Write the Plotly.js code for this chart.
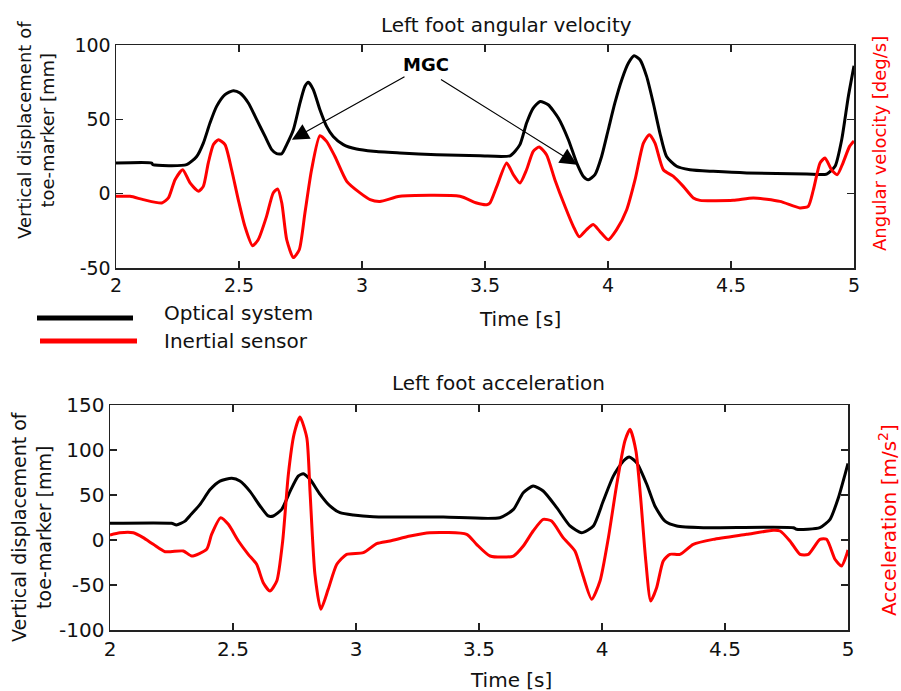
<!DOCTYPE html>
<html>
<head>
<meta charset="utf-8">
<script src="https://cdn.plot.ly/plotly-3.0.1.min.js"></script>
<style>html,body{margin:0;padding:0;background:#fff;}#chart{width:901px;height:691px;}</style>
</head>
<body>
<div id="chart"></div>
<script>
// ---- Top panel: Left foot angular velocity ----
var topOptT = [2.0,2.145,2.15,2.287,2.328,2.355,2.382,2.409,2.443,2.477,2.504,2.538,2.572,2.606,2.633,2.653,2.674,2.694,2.721,2.748,2.768,2.782,2.802,2.829,2.856,2.883,2.924,2.978,3.046,3.154,3.304,3.48,3.602,3.642,3.669,3.696,3.724,3.757,3.798,3.839,3.873,3.9,3.92,3.947,3.974,4.001,4.028,4.056,4.083,4.106,4.13,4.157,4.184,4.211,4.238,4.279,4.333,4.428,4.564,4.808,4.889,4.923,4.95,4.977,5.0];
var topOptV = [20.6,20.6,19.5,19.5,25,34,47.5,58.7,66.6,69.3,67.7,61,49.8,38.5,29.6,26.9,26.9,33,43,61,72.2,74.9,70,56.5,45.3,38.5,33,30,28.5,27.4,26.2,25.5,25.5,33,47.5,57.6,62,59.8,50.9,36.3,20.6,11.6,9.4,12.8,25,43,61,76.7,87.9,92.8,90.1,78.9,61,40.8,25,18.4,16.1,15,13.9,13.2,13.2,18.4,36.3,65.4,86];
var topInsT = [2.0,2.057,2.111,2.186,2.213,2.24,2.271,2.301,2.335,2.355,2.375,2.396,2.416,2.443,2.47,2.497,2.524,2.555,2.578,2.612,2.639,2.657,2.674,2.694,2.721,2.745,2.768,2.795,2.829,2.856,2.89,2.938,2.992,3.033,3.073,3.154,3.398,3.466,3.507,3.52,3.548,3.588,3.615,3.642,3.669,3.696,3.72,3.75,3.784,3.825,3.859,3.883,3.913,3.94,3.967,4.001,4.035,4.076,4.11,4.144,4.168,4.191,4.225,4.266,4.306,4.347,4.374,4.509,4.591,4.699,4.78,4.814,4.835,4.862,4.882,4.909,4.932,4.955,4.982,5.0];
var topInsV = [-1.8,-1.8,-4,-6.3,-2.9,9.4,16.1,7.2,1.6,4.9,20.6,33,36.3,33,16.1,-4,-22,-35,-31,-15.3,0.5,3.2,-6.3,-31,-43,-37.7,-13,16.1,39,35.2,25,8.3,0.5,-4,-5.2,-1.8,-1.8,-6.3,-7.4,-6.3,4.9,20.6,12.8,7.2,16.1,28.5,31.4,26.2,9.4,-8.5,-22,-29,-24.2,-20.8,-25.4,-31,-24.2,-10.8,9.4,34,39.7,34,16.1,11.6,4.9,-2.9,-4.5,-4.5,-2.9,-5.2,-9.6,-8.5,2.7,20.6,24,16.1,12.8,20.6,31.8,35.4];

// ---- Bottom panel: Left foot acceleration ----
var botOptT = [2.0,2.25,2.27,2.305,2.33,2.366,2.407,2.447,2.495,2.528,2.569,2.61,2.643,2.664,2.698,2.732,2.765,2.786,2.813,2.854,2.894,2.935,2.989,3.07,3.355,3.585,3.64,3.68,3.72,3.761,3.816,3.87,3.917,3.965,4.005,4.046,4.087,4.111,4.141,4.182,4.215,4.256,4.304,4.412,4.778,4.791,4.886,4.927,4.961,4.988,5.0];
var botOptV = [18.5,18.5,16.7,21,28.5,39.6,56,65.5,68.5,65.5,54,37.8,26.7,26.7,34,54,71,73.7,67.4,50.7,37.8,30.4,27.8,25.9,25.5,24.8,34,52.6,60,54.4,35.9,15.6,8.1,15.6,43.3,71,87.8,92.2,85.9,61.9,37.8,21,15.6,13.7,13.7,11.9,13.7,23,47,73,85];
var botInsT = [2.0,2.04,2.095,2.135,2.176,2.224,2.298,2.332,2.393,2.413,2.45,2.481,2.522,2.562,2.596,2.623,2.65,2.678,2.702,2.725,2.748,2.772,2.8,2.813,2.833,2.857,2.887,2.922,2.962,3.03,3.084,3.138,3.22,3.3,3.45,3.49,3.545,3.64,3.68,3.72,3.761,3.795,3.842,3.89,3.917,3.958,3.992,4.026,4.06,4.093,4.114,4.138,4.157,4.178,4.198,4.222,4.249,4.276,4.317,4.371,4.452,4.588,4.696,4.724,4.764,4.805,4.839,4.886,4.913,4.947,4.974,4.995,5.0];
var botInsV = [5.6,8.1,8.1,2.6,-4.8,-13,-12.2,-17.8,-10.3,6.3,24.8,17.4,-1.1,-15.9,-27,-47.4,-56.7,-45.6,-1.1,73,117.4,136.7,113.7,54.4,-38,-77,-54.8,-27,-15.9,-14.1,-4.1,-1.1,4.4,8.1,6.3,-4.8,-17.8,-17.8,-6.7,10,23,21,2.6,-12.2,-34.4,-65.9,-45.6,2.6,61.9,110,123,98.9,47,-23.3,-67.8,-53,-23.3,-15.9,-15.9,-4.8,0.7,6.3,10.7,10,-1.1,-15.9,-15.9,0.7,0.7,-21.4,-28.9,-15.9,-11];

var xTickVals = [2,2.5,3,3.5,4,4.5,5];
var xTickText = ['2','2.5','3','3.5','4','4.5','5'];
var topYTicks = [-50,0,50,100];
var botYTicks = [-100,-50,0,50,100,150];

var FONT = 'DejaVu Sans, Verdana, sans-serif';
var W = 901, H = 691;
function px(x){return x/W;}
function py(y){return (H-y)/H;}

function ln(color){return {color:color, width:3, shape:'spline', smoothing:0.6};}
var traces = [
  {x:topOptT, y:topOptV, xaxis:'x', yaxis:'y', type:'scatter', mode:'lines', line:ln('#000000'), name:'Optical system'},
  {x:topInsT, y:topInsV, xaxis:'x', yaxis:'y2', type:'scatter', mode:'lines', line:ln('#ff0000'), name:'Inertial sensor'},
  {x:botOptT, y:botOptV, xaxis:'x2', yaxis:'y3', type:'scatter', mode:'lines', line:ln('#000000'), name:'Optical system'},
  {x:botInsT, y:botInsV, xaxis:'x2', yaxis:'y4', type:'scatter', mode:'lines', line:ln('#ff0000'), name:'Inertial sensor'}
];

function xAxis(dom, anchor, fs){
  return {domain:dom, anchor:anchor, range:[2,5], tickvals:xTickVals, ticktext:xTickText,
    ticks:'inside', ticklen:7, tickwidth:1.2, tickcolor:'#222', showline:true, linecolor:'#222', linewidth:1.5,
    mirror:'ticks', showgrid:false, zeroline:false, tickfont:{family:FONT, size:fs, color:'#111'}};
}
function yAxis(dom, anchor, rng, tv, fs){
  return {domain:dom, anchor:anchor, range:rng, tickvals:tv, ticktext:tv.map(String),
    ticks:'inside', ticklen:7, tickwidth:1.2, tickcolor:'#222', showline:true, linecolor:'#222', linewidth:1.5,
    mirror:'ticks', showgrid:false, zeroline:false, tickfont:{family:FONT, size:fs, color:'#111'}};
}
function yOver(over, anchor, rng){
  return {overlaying:over, anchor:anchor, side:'right', range:rng, showticklabels:false, ticks:'',
    showline:false, showgrid:false, zeroline:false};
}

var layout = {
  width:W, height:H, margin:{l:0,r:0,t:0,b:0}, paper_bgcolor:'#fff', plot_bgcolor:'#fff',
  showlegend:false, font:{family:FONT, color:'#111'},
  xaxis: xAxis([px(116), px(854)], 'y', 19),
  yaxis: yAxis([py(268), py(45)], 'x', [-50,100], topYTicks, 19),
  yaxis2: yOver('y', 'x', [-50,100]),
  xaxis2: xAxis([px(110), px(848)], 'y3', 20),
  yaxis3: yAxis([py(630), py(405)], 'x2', [-100,150], botYTicks, 20),
  yaxis4: yOver('y3', 'x2', [-100,150]),
  shapes: [
    {type:'line', xref:'paper', yref:'paper', x0:px(37), x1:px(133), y0:py(318), y1:py(318), line:{color:'#000', width:5}},
    {type:'line', xref:'paper', yref:'paper', x0:px(40), x1:px(137), y0:py(341), y1:py(341), line:{color:'#ff0000', width:5}}
  ],
  annotations: [
    {xref:'paper', yref:'paper', x:px(506), y:py(25), text:'Left foot angular velocity', showarrow:false, xanchor:'center', yanchor:'middle', font:{family:FONT, size:20, color:'#111'}},
    {xref:'paper', yref:'paper', x:px(520), y:py(319), text:'Time [s]', showarrow:false, xanchor:'center', yanchor:'middle', font:{family:FONT, size:20, color:'#111'}},
    {xref:'paper', yref:'paper', x:px(36), y:py(130), text:'Vertical displacement of<br>toe-marker [mm]', textangle:-90, showarrow:false, xanchor:'center', yanchor:'middle', font:{family:FONT, size:18, color:'#111'}},
    {xref:'paper', yref:'paper', x:px(880), y:py(144), text:'Angular velocity [deg/s]', textangle:-90, showarrow:false, xanchor:'center', yanchor:'middle', font:{family:FONT, size:18, color:'#ff0000'}},
    {xref:'paper', yref:'paper', x:px(162), y:py(313), text:'Optical system', showarrow:false, xanchor:'left', yanchor:'middle', font:{family:FONT, size:20, color:'#111'}},
    {xref:'paper', yref:'paper', x:px(162), y:py(341), text:'Inertial sensor', showarrow:false, xanchor:'left', yanchor:'middle', font:{family:FONT, size:20, color:'#111'}},
    {xref:'paper', yref:'paper', x:px(498), y:py(383), text:'Left foot acceleration', showarrow:false, xanchor:'center', yanchor:'middle', font:{family:FONT, size:20, color:'#111'}},
    {xref:'paper', yref:'paper', x:px(511), y:py(680), text:'Time [s]', showarrow:false, xanchor:'center', yanchor:'middle', font:{family:FONT, size:20, color:'#111'}},
    {xref:'paper', yref:'paper', x:px(31), y:py(527), text:'Vertical displacement of<br>toe-marker [mm]', textangle:-90, showarrow:false, xanchor:'center', yanchor:'middle', font:{family:FONT, size:19, color:'#111'}},
    {xref:'paper', yref:'paper', x:px(888), y:py(520), text:'Acceleration [m/s<sup>2</sup>]', textangle:-90, showarrow:false, xanchor:'center', yanchor:'middle', font:{family:FONT, size:20, color:'#ff0000'}},
    // MGC label with its first arrow
    {xref:'x', yref:'y', x:2.715, y:36.3, axref:'x', ayref:'y', ax:3.26, ay:86.7, text:'<b>MGC</b>', showarrow:true, arrowhead:2, arrowsize:2.8, arrowwidth:1.2, arrowcolor:'#000', standoff:0, font:{family:FONT, size:18, color:'#000'}},
    // second arrow from MGC
    {xref:'x', yref:'y', x:3.874, y:19.5, axref:'x', ayref:'y', ax:3.315, ay:77.5, text:'', showarrow:true, arrowhead:2, arrowsize:2.8, arrowwidth:1.2, arrowcolor:'#000', standoff:0, startstandoff:0}
  ]
};

Plotly.newPlot('chart', traces, layout, {staticPlot:true, displayModeBar:false});
</script>
</body>
</html>
